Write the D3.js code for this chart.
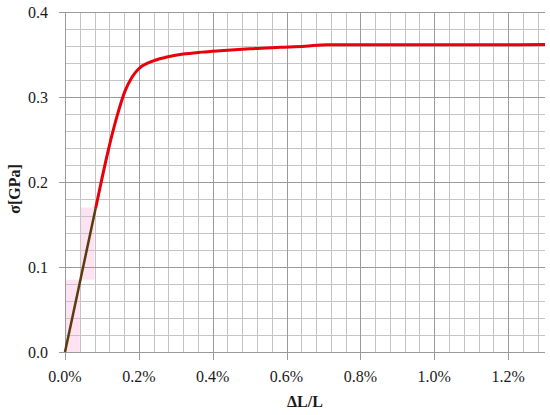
<!DOCTYPE html>
<html>
<head>
<meta charset="UTF-8">
<script src="https://d3js.org/d3.v7.min.js"></script>
<style>
  body { margin: 0; background: #fff; }
  text { font-family: "Liberation Serif", "DejaVu Serif", serif; fill: #1a1a1a; }
</style>
</head>
<body>
<div id="chart"></div>
<script>
// data (strain in %, stress in GPa)
var strainElastic = [0, 0.083];
var stressElastic = [0, 0.169];

var strainPlastic = [0.083, 0.10, 0.117, 0.14, 0.163, 0.181, 0.199, 0.23, 0.276, 0.32, 0.37, 0.42, 0.50, 0.583, 0.65, 0.709, 0.80, 1.0, 1.2, 1.3];
var stressPlastic = [0.169, 0.204, 0.237, 0.276, 0.3075, 0.323, 0.333, 0.341, 0.347, 0.3505, 0.3528, 0.3545, 0.3568, 0.3585, 0.3598, 0.3615, 0.3615, 0.3615, 0.3615, 0.3618];

// faint shaded cells near the origin
var shadeX0 = [0, 0.04];
var shadeX1 = [0.04, 0.08];
var shadeY0 = [0, 0.085];
var shadeY1 = [0.085, 0.17];

var xTicks = [0, 0.2, 0.4, 0.6, 0.8, 1.0, 1.2];
var xTickLabels = ["0.0%", "0.2%", "0.4%", "0.6%", "0.8%", "1.0%", "1.2%"];
var yTicks = [0, 0.1, 0.2, 0.3, 0.4];
var yTickLabels = ["0.0", "0.1", "0.2", "0.3", "0.4"];

var width = 550, height = 415;

var svg = d3.select("#chart").append("svg")
    .attr("width", width)
    .attr("height", height);

var x = d3.scaleLinear().domain([0, 1.3]).range([65, 545]);
var y = d3.scaleLinear().domain([0, 0.4]).range([352, 12]);

// shading
svg.append("g").selectAll("rect")
    .data(shadeX0)
    .enter().append("rect")
    .attr("x", function(d) { return x(d); })
    .attr("width", function(d, i) { return x(shadeX1[i]) - x(d); })
    .attr("y", function(d, i) { return y(shadeY1[i]); })
    .attr("height", function(d, i) { return y(shadeY0[i]) - y(shadeY1[i]); })
    .attr("fill", "#fde3f1");

// minor grid, every 0.04% and 0.02 GPa
var minorX = d3.range(0, 33).map(function(i) { return i * 0.04; });
var minorY = d3.range(0, 21).map(function(i) { return i * 0.02; });

var grid = svg.append("g");
grid.selectAll(".vminor")
    .data(minorX)
    .enter().append("line")
    .attr("x1", function(d) { return Math.round(x(d)) + 0.5; })
    .attr("x2", function(d) { return Math.round(x(d)) + 0.5; })
    .attr("y1", y(0.4))
    .attr("y2", y(0))
    .attr("stroke", "#c4c4c4")
    .attr("stroke-width", 1);
grid.selectAll(".hminor")
    .data(minorY)
    .enter().append("line")
    .attr("y1", function(d) { return Math.round(y(d)) + 0.5; })
    .attr("y2", function(d) { return Math.round(y(d)) + 0.5; })
    .attr("x1", x(0))
    .attr("x2", x(1.3))
    .attr("stroke", "#c4c4c4")
    .attr("stroke-width", 1);

// major grid
grid.selectAll(".vmajor")
    .data(xTicks)
    .enter().append("line")
    .attr("x1", function(d) { return Math.round(x(d)) + 0.5; })
    .attr("x2", function(d) { return Math.round(x(d)) + 0.5; })
    .attr("y1", y(0.4))
    .attr("y2", y(0) + 8)
    .attr("stroke", "#9a9a9a")
    .attr("stroke-width", 1);
grid.selectAll(".hmajor")
    .data(yTicks)
    .enter().append("line")
    .attr("y1", function(d) { return Math.round(y(d)) + 0.5; })
    .attr("y2", function(d) { return Math.round(y(d)) + 0.5; })
    .attr("x1", x(0) - 6)
    .attr("x2", x(1.3))
    .attr("stroke", "#9a9a9a")
    .attr("stroke-width", 1);

// tick labels
svg.append("g").selectAll("text")
    .data(xTicks)
    .enter().append("text")
    .attr("x", function(d) { return x(d); })
    .attr("y", 382)
    .attr("text-anchor", "middle")
    .attr("font-size", 16)
    .text(function(d, i) { return xTickLabels[i]; });

svg.append("g").selectAll("text")
    .data(yTicks)
    .enter().append("text")
    .attr("x", 48)
    .attr("y", function(d) { return y(d) + 5.5; })
    .attr("text-anchor", "end")
    .attr("font-size", 16)
    .text(function(d, i) { return yTickLabels[i]; });

// axis titles
svg.append("text")
    .attr("x", 305)
    .attr("y", 407)
    .attr("text-anchor", "middle")
    .attr("font-size", 16)
    .attr("font-weight", "bold")
    .text("ΔL/L");

svg.append("text")
    .attr("transform", "translate(20,189) rotate(-90)")
    .attr("text-anchor", "middle")
    .attr("font-size", 16)
    .attr("font-weight", "bold")
    .text("σ[GPa]");

// curves
var line = d3.line()
    .x(function(d) { return x(d[0]); })
    .y(function(d) { return y(d[1]); })
    .curve(d3.curveMonotoneX);

svg.append("path")
    .datum(d3.zip(strainPlastic, stressPlastic))
    .attr("d", line)
    .attr("fill", "none")
    .attr("stroke", "#e8000b")
    .attr("stroke-width", 3)
    .attr("stroke-linejoin", "round");

svg.append("path")
    .datum(d3.zip(strainElastic, stressElastic))
    .attr("d", d3.line().x(function(d) { return x(d[0]); }).y(function(d) { return y(d[1]); }))
    .attr("fill", "none")
    .attr("stroke", "#5b3a0e")
    .attr("stroke-width", 2.5);
</script>
</body>
</html>
